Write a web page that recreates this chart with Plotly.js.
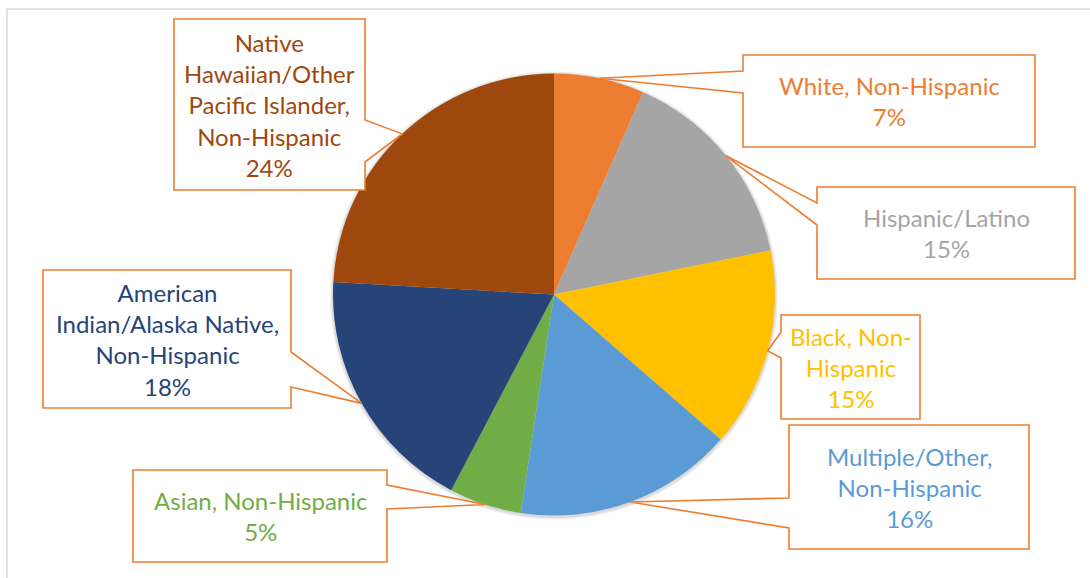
<!DOCTYPE html>
<html>
<head>
<meta charset="utf-8">
<script src="https://cdn.plot.ly/plotly-3.0.1.min.js"></script>
<style>html,body{margin:0;padding:0;background:#fff;}#chart{width:1090px;height:578px;}</style>
</head>
<body>
<div id="chart"></div>
<script>
// ---- data ----
const categories = [
  "White, Non-Hispanic",
  "Hispanic/Latino",
  "Black, Non-Hispanic",
  "Multiple/Other, Non-Hispanic",
  "Asian, Non-Hispanic",
  "American Indian/Alaska Native, Non-Hispanic",
  "Native Hawaiian/Other Pacific Islander, Non-Hispanic"
];
const labelLines = [
  "White, Non-Hispanic",
  "Hispanic/Latino",
  "Black, Non-<br>Hispanic",
  "Multiple/Other,<br>Non-Hispanic",
  "Asian, Non-Hispanic",
  "American<br>Indian/Alaska Native,<br>Non-Hispanic",
  "Native<br>Hawaiian/Other<br>Pacific Islander,<br>Non-Hispanic"
];
const values = [6.6, 15.2, 14.6, 16.0, 5.3, 18.2, 24.1];
const colors = ["#ED7D31", "#A5A5A5", "#FFC000", "#5B9BD5", "#70AD47", "#264478", "#9E480E"];

// ---- layout geometry (pixels) ----
const W = 1090, H = 578;
const CX = 554, CY = 294.5, R = 221;
const px = x => x / W;
const py = y => 1 - y / H;

// callout boxes: left, top, right, bottom, wedge side, wedge base range
const boxes = [
  {l: 743, t: 55,  r: 1035, b: 147, side: "left",  w0: 71,  w1: 93},
  {l: 817, t: 187, r: 1075, b: 279, side: "left",  w0: 203, w1: 225},
  {l: 781, t: 315, r: 920,  b: 419, side: "left",  w0: 332, w1: 358},
  {l: 789, t: 425, r: 1029, b: 549, side: "left",  w0: 498, w1: 528},
  {l: 133, t: 470, r: 387,  b: 562, side: "right", w0: 485, w1: 509},
  {l: 43,  t: 270, r: 291,  b: 408, side: "right", w0: 352, w1: 387},
  {l: 174, t: 19,  r: 365,  b: 190, side: "right", w0: 120, w1: 162}
];

const total = values.reduce((a, b) => a + b, 0);
const shapes = [];
const annotations = [];

// frame
shapes.push({type: "line", xref: "paper", yref: "paper", x0: px(7), x1: px(W), y0: py(9), y1: py(9), line: {color: "#D9D9D9", width: 1.5}});
shapes.push({type: "line", xref: "paper", yref: "paper", x0: px(7), x1: px(7), y0: py(9), y1: py(H), line: {color: "#D9D9D9", width: 1.5}});

// soft pie shadow
shapes.push({type: "circle", xref: "paper", yref: "paper", layer: "below",
  x0: px(CX - R - 3), x1: px(CX + R + 3), y0: py(CY + R + 4), y1: py(CY - R - 2),
  fillcolor: "rgba(0,0,0,0.07)", line: {width: 0}});
shapes.push({type: "circle", xref: "paper", yref: "paper", layer: "below",
  x0: px(CX - R - 1.5), x1: px(CX + R + 1.5), y0: py(CY + R + 2.5), y1: py(CY - R - 0.5),
  fillcolor: "rgba(0,0,0,0.08)", line: {width: 0}});

let cum = 0;
values.forEach((v, i) => {
  const mid = (cum + v / 2) / total * 2 * Math.PI;
  cum += v;
  const tx = CX + R * Math.sin(mid);
  const ty = CY - R * Math.cos(mid);
  const b = boxes[i];
  let d;
  if (b.side === "left") {
    d = `M ${px(b.l)},${py(b.t)} L ${px(b.r)},${py(b.t)} L ${px(b.r)},${py(b.b)} L ${px(b.l)},${py(b.b)} L ${px(b.l)},${py(b.w1)} L ${px(tx)},${py(ty)} L ${px(b.l)},${py(b.w0)} Z`;
  } else {
    d = `M ${px(b.l)},${py(b.t)} L ${px(b.r)},${py(b.t)} L ${px(b.r)},${py(b.w0)} L ${px(tx)},${py(ty)} L ${px(b.r)},${py(b.w1)} L ${px(b.r)},${py(b.b)} L ${px(b.l)},${py(b.b)} Z`;
  }
  shapes.push({type: "path", xref: "paper", yref: "paper", path: d,
    fillcolor: "#FFFFFF", line: {color: "#ED7D31", width: 1.6}});
  annotations.push({
    xref: "paper", yref: "paper",
    x: px((b.l + b.r) / 2), y: py((b.t + b.b) / 2),
    xanchor: "center", yanchor: "middle",
    text: labelLines[i] + "<br>" + Math.round(v / total * 100) + "%",
    showarrow: false,
    align: "center",
    font: {family: "Lato, 'Open Sans', sans-serif", size: 24, color: colors[i]}
  });
});

const trace = {
  type: "pie",
  labels: categories,
  values: values,
  sort: false,
  direction: "clockwise",
  rotation: 0,
  marker: {colors: colors, line: {width: 0}},
  textinfo: "none",
  hoverinfo: "label+percent",
  domain: {x: [px(CX - R), px(CX + R)], y: [py(CY + R), py(CY - R)]},
  showlegend: false
};

const layout = {
  width: W, height: H,
  margin: {l: 0, r: 0, t: 0, b: 0},
  paper_bgcolor: "#FFFFFF",
  plot_bgcolor: "#FFFFFF",
  showlegend: false,
  shapes: shapes,
  annotations: annotations
};

Plotly.newPlot("chart", [trace], layout, {displayModeBar: false, staticPlot: true});
</script>
</body>
</html>
